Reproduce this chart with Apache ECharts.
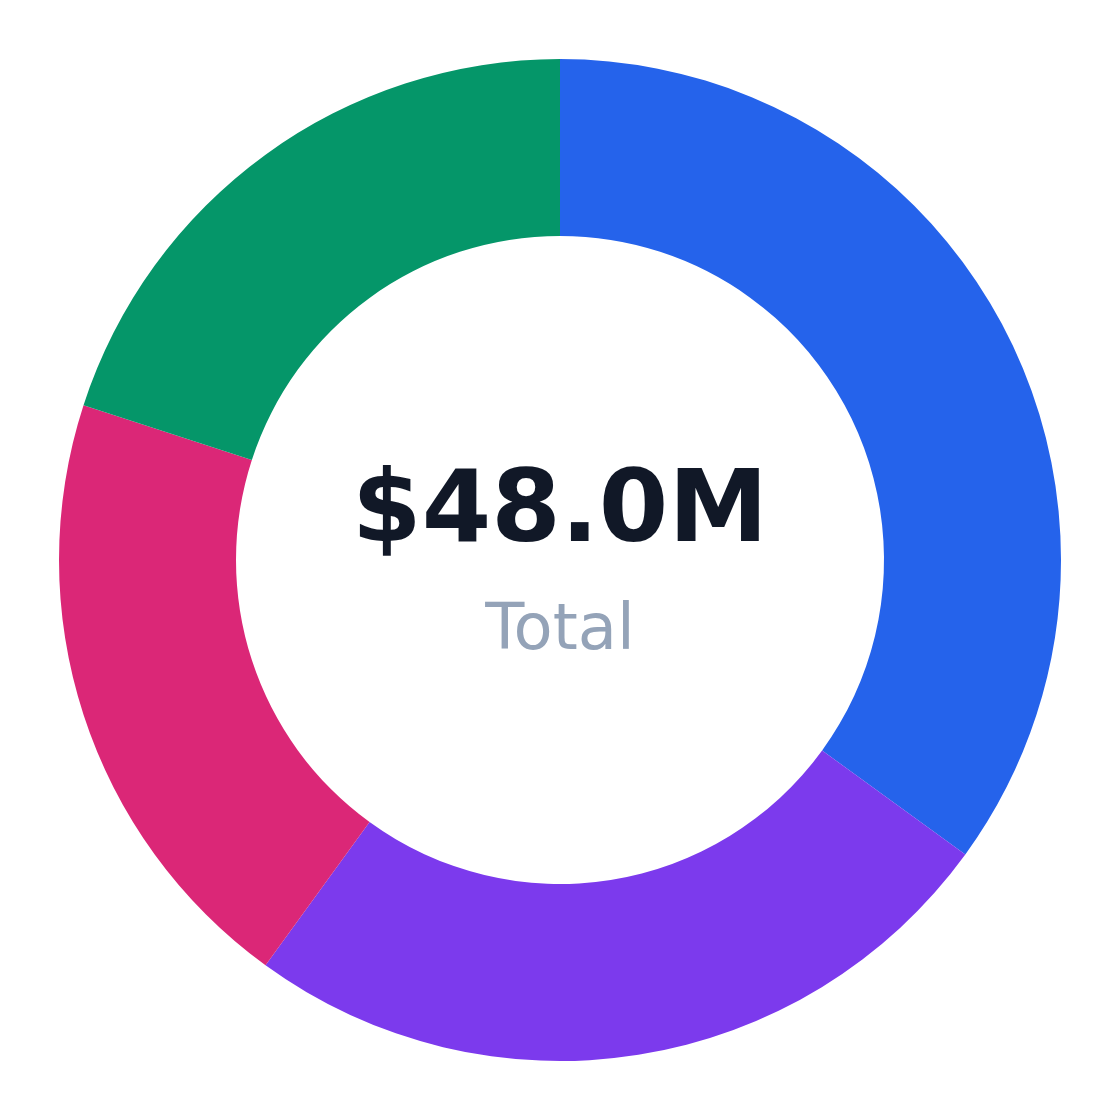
<!DOCTYPE html>
<html>
<head>
<meta charset="utf-8">
<script src="https://cdn.jsdelivr.net/npm/echarts@6/dist/echarts.min.js"></script>
<style>
html,body{margin:0;padding:0;background:#ffffff;}
#chart{width:1120px;height:1120px;}
</style>
</head>
<body>
<div id="chart"></div>
<script>
const categories = ['Segment A', 'Segment B', 'Segment C', 'Segment D'];
const values = [16.8, 12.0, 9.6, 9.6];
const colors = ['#2563eb', '#7c3aed', '#db2777', '#059669'];
const centerValue = '$48.0M';
const centerLabel = 'Total';

const chart = echarts.init(document.getElementById('chart'), null, {renderer: 'canvas'});
chart.setOption({
  animation: false,
  backgroundColor: '#ffffff',
  color: colors,
  series: [{
    type: 'pie',
    center: ['50%', '50%'],
    radius: [324, 501],
    startAngle: 90,
    clockwise: true,
    label: {show: false},
    labelLine: {show: false},
    itemStyle: {borderWidth: 0},
    data: categories.map((c, i) => ({name: c, value: values[i]}))
  }],
  graphic: [
    {
      type: 'text', left: 'center', top: 465,
      style: {text: centerValue, font: 'bold 100px "DejaVu Sans"', fill: '#111827', textAlign: 'center'}
    },
    {
      type: 'text', left: 'center', top: 600,
      style: {text: centerLabel, font: '64px "DejaVu Sans"', fill: '#94a3b8', textAlign: 'center'}
    }
  ]
});
</script>
</body>
</html>
